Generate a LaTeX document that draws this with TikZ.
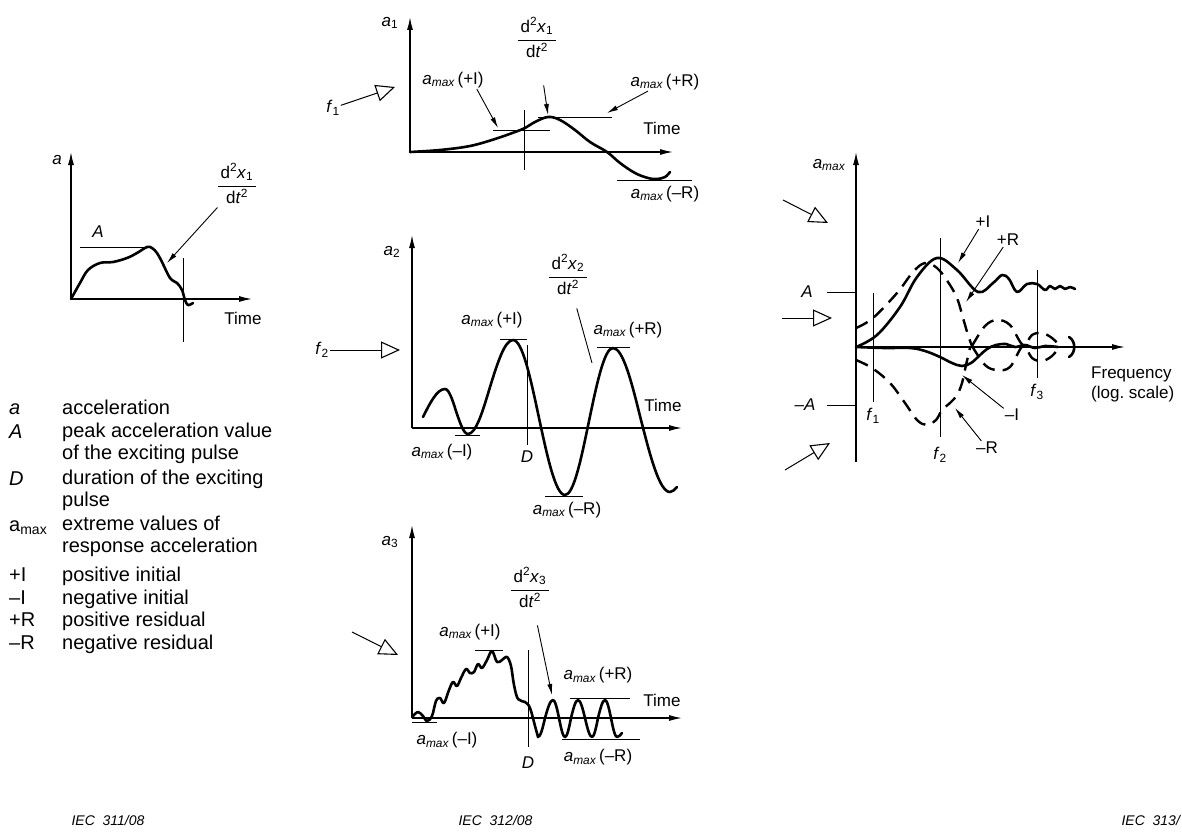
\documentclass[tikz,border=0pt]{standalone}
\usepackage{fontspec}
\setmainfont{Liberation Sans}
\usetikzlibrary{arrows.meta}

\newcommand{\amax}{\textit{a}\textsubscript{\itshape max}}
\newcommand{\accfrac}[1]{\renewcommand{\arraystretch}{1.25}\setlength{\arrayrulewidth}{0.8pt}%
  \begin{tabular}{@{\hspace{3pt}}c@{\hspace{3pt}}}d\textsuperscript{2}\textit{x}\textsubscript{#1}\\\hline d\textit{t}\textsuperscript{2}\end{tabular}}

\begin{document}
\begin{tikzpicture}[x=1pt, y=-1pt, line join=round,
  axis/.style={line width=1.3pt, -{Latex[length=13pt,width=6pt]}},
  resp/.style={line width=2.6pt, line cap=round},
  dresp/.style={line width=2.4pt, dash pattern=on 13pt off 8pt},
  guide/.style={line width=0.9pt},
  pointer/.style={line width=0.9pt, -{Latex[length=11pt,width=5pt]}},
  excite/.style={line width=1pt, -{Triangle[open,length=19pt,width=17pt,line width=1.1pt]}},
  lbl/.style={font=\fontsize{17}{20}\selectfont, inner sep=1pt},
  frac/.style={lbl, inner sep=0pt},
  leg/.style={font=\fontsize{20}{22}\selectfont, anchor=base west, align=left, inner sep=0pt},
  iec/.style={font=\fontsize{14}{16}\selectfont\itshape, anchor=west}]

\fill[white] (0,0) rectangle (1182,832);
\useasboundingbox (0,0) rectangle (1182,832);

% axes of the four time plots
\foreach \n/\ox/\oy/\ot/\oe in {1/71/299/152/252, 2/410/152/17/673, 3/412/428/235/682, 4/412/718/525/682} {
  \coordinate (o\n) at (\ox,\oy);
  \coordinate (yt\n) at (\ox,\ot);
  \coordinate (xe\n) at (\oe,\oy);
  \draw[axis] (o\n) -- (yt\n);
  \draw[axis] (o\n) -- (xe\n);
}
\foreach \x/\y [count=\i] in {243/318, 662/128, 663/405, 662/700}
  \node[lbl] (time\i) at (\x,\y) {Time};

\node[lbl] (an1) at (57,160) {\textit{a}};
\node[lbl] (an2) at (390,23) {\textit{a}\textsubscript{1}};
\node[lbl] (an3) at (392,252) {\textit{a}\textsubscript{2}};
\node[lbl] (an4) at (390,542) {\textit{a}\textsubscript{3}};

% exciting pulse
\node[lbl] (lA) at (98,232) {\textit{A}};
\draw[guide] (80,247) -- (153,247);
\draw[guide] (183,258) -- (183,342);
\draw[resp] plot[smooth, tension=0.6] coordinates {(71,299) (80,283) (88,270) (100,263) (113,262)
  (127,258) (137,253) (147,247) (152,248) (157,253) (162,262) (170,278) (177,283) (182,290)
  (185,300) (188,305) (193,303)};
\node[frac] (fr1) at (237,186) {\accfrac{1}};
\coordinate (t1) at (167,263);
\draw[pointer] (fr1) -- (t1);

% response to f1
\node[lbl] (f1) at (333,108) {\textit{f}\textsubscript{1}};
\coordinate (ex1) at (395,87);
\draw[excite] (f1) -- (ex1);
\draw[guide] (493,130) -- (550,130);
\draw[guide] (538,117) -- (612,117);
\draw[guide] (617,180) -- (692,180);
\draw[guide] (524,110) -- (524,170);
\draw[resp] plot[smooth, tension=0.6] coordinates {(410,152) (440,150) (470,146) (495,139)
  (515,132) (525,128) (535,122) (548,117) (560,120) (575,130) (590,142) (607,152) (620,163)
  (635,173) (648,178) (657,179) (665,177) (670,172)};
\node[lbl] (pI1) at (453,80) {\amax\,(+I)};
\node[lbl] (pR1) at (665,82) {\amax\,(+R)};
\node[lbl] (mR1) at (665,194) {\amax\,(\textendash R)};
\node[frac] (fr2) at (537,40) {\accfrac{1}};
\coordinate (tI1) at (498,128);
\coordinate (t2) at (548,115);
\coordinate (tR1) at (607,113);
\draw[pointer] ([xshift=-8pt]pI1.south east) -- (tI1);
\draw[pointer, shorten <=20pt] (fr2) -- (t2);
\draw[pointer] (pR1) -- (tR1);

% response to f2
\node[lbl] (f2) at (322,350) {\textit{f}\textsubscript{2}};
\coordinate (ex2) at (400,350);
\draw[excite] (f2) -- (ex2);
\draw[guide] (455,435) -- (480,435);
\draw[guide] (500,339) -- (527,339);
\draw[guide] (597,347) -- (630,347);
\draw[guide] (545,496) -- (583,496);
\draw[guide] (527,345) -- (527,445);
\draw[resp] (423,417) sin (445,389) cos (456,411) sin (468,434) cos (490,387) sin (513,340)
  cos (539,418) sin (565,495) cos (589,421) sin (613,348) cos (641,420) sin (670,492) cos (677,487);
\node[lbl] (pI2) at (492,320) {\amax\,(+I)};
\node[lbl] (mI2) at (442,452) {\amax\,(\textendash I)};
\node[lbl] (pR2) at (628,330) {\amax\,(+R)};
\node[lbl] (mR2) at (567,510) {\amax\,(\textendash R)};
\node[lbl] (D2) at (527,457) {\textit{D}};
\node[frac] (fr3) at (568,277) {\accfrac{2}};
\coordinate (t3) at (592,363);
\draw[guide, shorten <=6pt] (fr3) -- (t3);

% response to f3
\coordinate (ex3s) at (352,632);
\coordinate (ex3) at (398,655);
\draw[excite] (ex3s) -- (ex3);
\draw[guide] (412,722) -- (437,722);
\draw[guide] (475,650) -- (503,650);
\draw[guide] (570,698) -- (630,698);
\draw[guide] (562,739) -- (640,739);
\draw[guide] (528,650) -- (528,747);
\draw[resp] plot[smooth, tension=0.6] coordinates {(413,716) (418,712) (423,716) (427,721)
  (432,716) (436,701) (440,698) (444,703) (449,690) (453,682) (457,686) (461,678) (466,669)
  (470,673) (474,672) (478,664) (482,668) (487,660) (492,651) (497,662) (502,660) (507,657)
  (511,666) (514,685) (518,699) (525,702) (530,708) (535,726) (538,737)}
  cos (545,718) sin (553,700) cos (559,718) sin (565,737) cos (571,718) sin (578,700)
  cos (585,718) sin (592,737) cos (598,718) sin (605,700) cos (611,718) sin (617,737) cos (622,733);
\node[lbl] (pI3) at (470,632) {\amax\,(+I)};
\node[lbl] (mI3) at (447,740) {\amax\,(\textendash I)};
\node[lbl] (pR3) at (598,675) {\amax\,(+R)};
\node[lbl] (mR3) at (598,757) {\amax\,(\textendash R)};
\node[lbl] (D3) at (528,763) {\textit{D}};
\node[frac] (fr4) at (530,590) {\accfrac{3}};
\coordinate (t4) at (552,695);
\draw[pointer, shorten <=10pt] (fr4) -- (t4);

% shock response spectrum
\coordinate (o5) at (856,347);
\coordinate (yb5) at (856,462);
\coordinate (yt5) at (856,152);
\coordinate (xe5) at (1125,347);
\draw[axis] (yb5) -- (yt5);
\draw[axis] (o5) -- (xe5);
\node[lbl] (an5) at (829,165) {\amax};
\node[lbl, align=left, anchor=west] (freq) at (1090,384) {Frequency\\(log.\ scale)};
\draw[guide] (827,292) -- (856,292);
\draw[guide] (827,405) -- (856,405);
\node[lbl] (lA5) at (807,292) {\textit{A}};
\node[lbl] (lmA5) at (805,405) {\textendash\textit{A}};
\foreach \x/\a/\b/\ly [count=\i] in {873/293/402/416, 940/238/437/455, 1037/270/378/392} {
  \draw[guide] (\x,\a) -- (\x,\b);
  \node[lbl] (fq\i) at (\x,\ly) {\textit{f}\textsubscript{\i}};
}
\draw[resp] plot[smooth, tension=0.6] coordinates {(856,347) (877,335) (900,307) (917,277)
  (937,258) (957,270) (978,292) (993,283) (1002,275) (1009,279) (1017,292) (1027,284)
  (1037,284) (1045,290) (1050,286) (1055,289) (1060,286) (1065,289) (1070,287) (1075,289)};
\draw[resp] plot[smooth, tension=0.6] coordinates {(856,347) (885,348) (910,348) (925,351)
  (940,357) (952,363) (962,366) (971,363) (979,356) (987,349) (996,345) (1006,344) (1015,347)
  (1025,345) (1035,348) (1045,346) (1058,347)};
\draw[dresp] plot[smooth, tension=0.6] coordinates {(856,328) (873,318) (897,293) (913,272)
  (925,263) (937,268) (948,282) (957,298) (963,318) (968,335) (972,346)};
\draw[dresp] plot[smooth, tension=0.6] coordinates {(972,346) (985,326) (997,320) (1010,325)
  (1023,345) (1032,335) (1042,333) (1052,338) (1060,346)};
\draw[dresp] plot[smooth, tension=0.6] coordinates {(856,360) (872,368) (890,383) (905,403)
  (917,420) (927,425) (936,420) (942,410) (950,403) (957,395) (962,383) (966,365) (970,348)};
\draw[dresp] plot[smooth, tension=0.6] coordinates {(972,346) (985,365) (997,370) (1010,367)
  (1023,346) (1032,358) (1042,361) (1052,356) (1060,346)};
\draw[resp] (1069,337) .. controls (1076,341) and (1076,353) .. (1069,357);
\node[lbl] (pI5) at (983,222) {+I};
\node[lbl] (pR5) at (1008,240) {+R};
\node[lbl] (mI5) at (1012,415) {\textendash I};
\node[lbl] (mR5) at (987,448) {\textendash R};
\coordinate (tI5) at (958,263);
\coordinate (tR5) at (966,302);
\coordinate (tmI5) at (962,375);
\coordinate (tmR5) at (955,408);
\draw[pointer] (pI5) -- (tI5);
\draw[pointer] (pR5) -- (tR5);
\draw[pointer] (mI5) -- (tmI5);
\draw[pointer] (mR5) -- (tmR5);
\foreach \a/\b/\c/\d [count=\i] in {783/200/828/223, 782/318/832/318, 785/470/830/443} {
  \coordinate (es\i) at (\a,\b);
  \coordinate (et\i) at (\c,\d);
  \draw[excite] (es\i) -- (et\i);
}

% key
\foreach \y/\l/\s/\t [count=\i] in {414/414/\textit{a}/acceleration,
    438/459/\textit{A}/{peak acceleration value\\of the exciting pulse},
    485/506/\textit{D}/{duration of the exciting\\pulse},
    531/552/a\textsubscript{max}/{extreme values of\\response acceleration},
    581/581/+I/positive initial, 604/604/\textendash I/negative initial,
    626/626/+R/positive residual, 649/649/\textendash R/negative residual} {
  \node[leg] (sym\i) at (9,\y) {\s};
  \node[leg] (txt\i) at (62,\l) {\t};
}

\node[iec] (iec1) at (68,820) {IEC\ \ 311/08};
\node[iec] (iec2) at (455,820) {IEC\ \ 312/08};
\node[iec] (iec3) at (1118,820) {IEC\ \ 313/};
\end{tikzpicture}
\end{document}
